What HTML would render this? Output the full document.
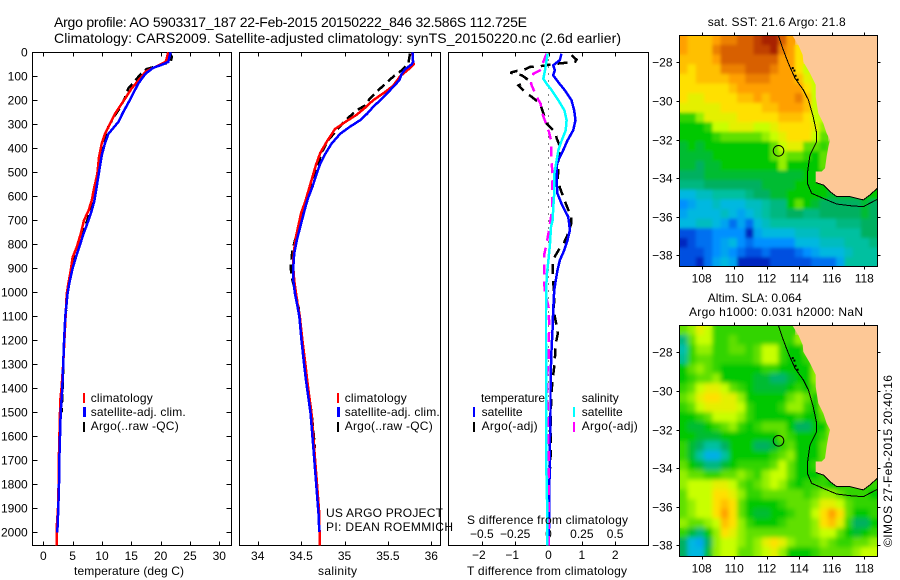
<!DOCTYPE html>
<html>
<head>
<meta charset="utf-8">
<title>Argo profile 5903317_187</title>
<style>
html,body{margin:0;padding:0;background:#fff;width:900px;height:580px;overflow:hidden}
svg{display:block}
text{font-family:"Liberation Sans",sans-serif;font-size:12px;fill:#000}
.t{font-size:14px}
</style>
</head>
<body>
<svg id="fig" xmlns="http://www.w3.org/2000/svg" width="900" height="580" viewBox="0 0 900 580">
<rect x="0" y="0" width="900" height="580" fill="#fff"/>
<text class="t" x="54" y="27" textLength="473" lengthAdjust="spacing">Argo profile: AO 5903317_187 22-Feb-2015 20150222_846 32.586S 112.725E</text>
<text class="t" x="54" y="43" textLength="567" lengthAdjust="spacing">Climatology: CARS2009. Satellite-adjusted climatology: synTS_20150220.nc (2.6d earlier)</text>

<g id="p1"></g>
<g id="p2"></g>
<g id="p3"></g>
<g id="m1"></g>
<g id="m2"></g>

<text x="74" y="575" textLength="110" lengthAdjust="spacing">temperature (deg C)</text>
<text x="318" y="575" textLength="39" lengthAdjust="spacing">salinity</text>
<text x="467" y="575" textLength="160" lengthAdjust="spacing">T difference from climatology</text>
<text x="467" y="524" textLength="161" lengthAdjust="spacing">S difference from climatology</text>

<g>
<rect x="83" y="393" width="2" height="10" fill="#f00"/>
<rect x="83" y="407" width="3" height="10" fill="#00f"/>
<rect x="83" y="422" width="2" height="10" fill="#000"/>
<text x="90.7" y="402" textLength="62" lengthAdjust="spacing">climatology</text>
<text x="90.7" y="416" textLength="95" lengthAdjust="spacing">satellite-adj. clim.</text>
<text x="90.7" y="430" textLength="88" lengthAdjust="spacing">Argo(..raw -QC)</text>
</g>
<g>
<rect x="337" y="393" width="2" height="10" fill="#f00"/>
<rect x="337" y="407" width="3" height="10" fill="#00f"/>
<rect x="337" y="422" width="2" height="10" fill="#000"/>
<text x="344.7" y="402" textLength="62" lengthAdjust="spacing">climatology</text>
<text x="344.7" y="416" textLength="95" lengthAdjust="spacing">satellite-adj. clim.</text>
<text x="344.7" y="430" textLength="88" lengthAdjust="spacing">Argo(..raw -QC)</text>
</g>
<text x="326" y="517" textLength="117" lengthAdjust="spacing">US ARGO PROJECT</text>
<text x="326" y="531" textLength="127" lengthAdjust="spacing">PI: DEAN ROEMMICH</text>

<g>
<text x="481" y="402" textLength="64" lengthAdjust="spacing">temperature</text>
<text x="481.6" y="416" textLength="41" lengthAdjust="spacing">satellite</text>
<text x="481.6" y="430" textLength="56" lengthAdjust="spacing">Argo(-adj)</text>
<rect x="473" y="407" width="2" height="10" fill="#00f"/>
<rect x="473" y="422" width="2" height="10" fill="#000"/>
<text x="581.7" y="402" textLength="37" lengthAdjust="spacing">salinity</text>
<text x="581.7" y="416" textLength="41" lengthAdjust="spacing">satellite</text>
<text x="581.7" y="430" textLength="56" lengthAdjust="spacing">Argo(-adj)</text>
<rect x="573" y="407" width="2" height="10" fill="#0ff"/>
<rect x="573" y="422" width="2" height="10" fill="#f0f"/>
</g>

<text x="707.7" y="26" textLength="138" lengthAdjust="spacing">sat. SST: 21.6 Argo: 21.8</text>
<text x="707.7" y="302" textLength="94" lengthAdjust="spacing">Altim. SLA: 0.064</text>
<text x="689" y="316" textLength="174" lengthAdjust="spacing">Argo h1000: 0.031 h2000: NaN</text>
<text transform="translate(892,547) rotate(-90)" textLength="172" lengthAdjust="spacing">©IMOS 27-Feb-2015 20:40:16</text>
</svg>

<script>
/* ---------- temperature profile data ---------- */
const tempClimDepth=[0,40,55,80,100,150,200,257,340,380,437,507,562,618,660,700,757,812,854,910,965,1007,1100,1200,1300,1400,1450,1600,1700,1800,1900,1975,2054];
const tempClimValue=[21.3,20.86,19.6,17.45,16.8,15.06,13.76,12.2,10.5,9.95,9.5,9.2,8.7,8.25,7.7,6.94,6.37,5.69,5.0,4.67,4.26,3.99,3.8,3.6,3.4,3.1,2.9,2.75,2.65,2.6,2.5,2.3,2.25];
const tempSatDepth=[0,40,50,65,90,130,170,210,250,290,340,380,430,500,560,620,660,700,760,810,850,900,960,1010,1100,1200,1300,1400,1500,1600,1700,1800,1900,2000];
const tempSatValue=[21.7,21.3,20.4,18.7,17.4,16.2,15.35,14.5,13.6,12.8,11.1,10.5,9.95,9.5,9.1,8.7,8.25,7.7,6.8,6.15,5.6,5.0,4.45,4.1,3.75,3.55,3.4,3.24,2.96,2.85,2.73,2.68,2.56,2.39];
const tempArgoDepth=[0,20,40,50,70,85,120,150,190,230,270,310,370,400,500,600,700,800,900,1000,1100,1200,1300,1400,1500];
const tempArgoValue=[21.6,21.9,21.7,20.4,17.6,16.8,15.6,14.5,13.9,13.1,12.0,11.1,10.4,10.1,9.4,8.8,7.5,6.0,4.8,4.1,3.8,3.6,3.4,3.3,3.1];

/* ---------- salinity profile data ---------- */
const salClimDepth=[0,40,50,70,100,140,170,200,230,260,290,320,370,420,470,520,570,620,670,720,770,820,860,900,950,1000,1050,1100,1200,1300,1367,1506,1644,1783,1922,2054];
const salClimValue=[35.78,35.79,35.80,35.74,35.64,35.56,35.45,35.33,35.24,35.14,35.01,34.89,34.80,34.72,34.67,34.63,34.59,34.55,34.50,34.47,34.44,34.42,34.41,34.41,34.42,34.44,34.46,34.485,34.515,34.55,34.57,34.62,34.65,34.68,34.71,34.714];
const salSatDepth=[0,6,40,50,70,89,117,144,172,200,228,256,283,311,339,381,422,464,506,561,617,672,728,783,839,894,950,1006,1061,1103,1200,1300,1367,1506,1644,1783,1922,1998];
const salSatValue=[35.78,35.785,35.79,35.774,35.70,35.66,35.63,35.56,35.49,35.41,35.33,35.26,35.18,35.06,34.95,34.85,34.78,34.72,34.68,34.63,34.57,34.53,34.49,34.45,34.42,34.41,34.41,34.43,34.46,34.48,34.505,34.535,34.556,34.61,34.64,34.67,34.70,34.71];
const salArgoDepth=[6,47,75,96,131,158,193,221,242,283,325,367,422,464,644,783,825,894,936,992,1061,1300,1500,1650];
const salArgoValue=[35.755,35.735,35.66,35.58,35.47,35.39,35.29,35.24,35.14,35.01,34.91,34.81,34.73,34.70,34.55,34.43,34.40,34.38,34.39,34.43,34.47,34.54,34.62,34.66];

/* ---------- difference data ---------- */
const dtSatDepth=[6,33,54,75,96,124,158,200,242,283,325,367,408,450,478,533,589,631,686,714,742,783,825,867,908,950,992,1075,1158,1242,1325,1408,1500,1644,1922,2054];
const dtSatValue=[.39,.34,.14,.19,.14,.29,.49,.69,.77,.81,.74,.57,.44,.29,.24,.24,.27,.39,.59,.62,.64,.57,.47,.34,.27,.22,.17,.14,.12,.09,.07,.06,.06,.04,.02,.01];
const dtArgoDepth=[12,31,40,44,50,58,61,71,78,85,89,96,110,124,138,172,186,214,297,332,360,394,450,533,568,631,686,714,769,797,825,860,894,936,971,1019,1075,1131,1172,1214,1256,1311,1367,1436,1575,1658,1783,1922,2054];
const dtArgoValue=[.69,.84,.80,.49,.1,-.25,-.55,-.70,-.95,-1.15,-1.0,-.8,-.65,-.7,-.9,-.65,-.5,-.25,-.05,.2,.25,.35,.3,.28,.35,.52,.68,.68,.55,.45,.3,.15,.12,.12,.15,.18,.15,.23,.28,.22,.2,.17,.12,.08,.06,.07,.03,.01,.01];
const dsSatDepth=[6,33,75,110,131,158,200,242,283,325,367,408,450,506,575,644,700,728,797,867,936,1075,1214,1353,1644,1742,1922,2054];
const dsSatValue=[-.006,-.014,-.026,-.039,-.014,.024,.074,.119,.136,.129,.099,.074,.061,.044,.044,.036,.031,.019,.011,-.001,-.014,-.019,-.019,-.019,-.019,-.016,-.009,-.009];
const dsArgoDepth=[6,75,89,131,186,214,256,304,332,367,436,506,575,644,686,742,797,839,908,950,999,1061,1144,1214,1283,1353,1506,1644,1783,2054];
const dsArgoValue=[-.014,-.064,-.114,-.131,-.089,-.059,-.046,-.014,.004,.019,.019,.031,.029,.029,.019,.004,-.014,-.031,-.034,-.034,-.026,0,.006,0,0,-.011,-.006,0,.001,.001];

/* ---------- axis tick labels ---------- */
const depthTicks=[0,100,200,300,400,500,600,700,800,900,1000,1100,1200,1300,1400,1500,1600,1700,1800,1900,2000];
const tempTicks=[0,5,10,15,20,25,30];
const salTicks=[34,34.5,35,35.5,36];
const dtTicks=[-2,-1,0,1,2];
const dsTicks=[-0.5,-0.25,0,0.25,0.5];
const lonTicks=[108,110,112,114,116,118];
const latTicks=[-28,-30,-32,-34,-36,-38];

/* ---------- SST grid, colour level per half-degree cell (north to south) ---------- */
const sstRows=[
[10,9.5,9.5,9.5,10,10.5,10.5,11,11,11.5,12,12,11,10],
[10,9.5,9.5,9.5,10.5,11,11,11,11,11.5,11.5,12,10.5,10,9],
[9.5,9.5,9.5,9.5,10,11,11,11,11,11,11,11,10,10,9],
[9.5,9,9.5,9.5,9.5,10.5,10.5,10.5,11,11,11,10.5,10,10,9,8],
[9,9,9.5,9.5,9.5,9.5,10,10,10.5,10.5,10.5,10,10,10,9.5,8.5,8],
[9,9,9,9,9,9,9.5,10,10,10,10,10,10,10,10,9,8],
[9,8.5,8.5,9,9,9,9,9.5,9.5,10,9.5,10,10,10,10.5,9.5,8],
[8.5,8.5,8.5,8.5,8.5,9,9,9,9,9,9.5,9.5,10,10,10,9.5,8,8],
[6.5,6.5,7.5,8.5,8.5,8.5,8.5,9,9,9,9,9,9.5,9.5,9.5,9,8,8],
[6,6,6,6.5,8,8,8.5,8.5,8.5,8,8,8.5,9,9,9,9,8.5,7.5],
[6,6,6,6,6.5,7,7,7,7,7,7.5,8,8.5,9,9,9,8,7],
[5.5,6,5.5,6,6,6,6,6,6,6,6,7,8,8.5,8.5,7,7,6.5,7],
[5.5,5.5,5.5,5.5,6,6,6,6,6,6,6,7,7.5,7,7,6.5,6,7],
[5.5,5.5,5,5.5,5.5,6,6,6,6,6,6,6,7.5,6,6,6,6,7,7],
[5,5,5,5.5,5.5,5.5,5.5,5.5,5.5,5.5,5.5,5.5,5.5,5.5,5.5,6,6,6],
[4.5,4.5,4.5,5,5,5,5,5,5,5,5.5,5.5,5.5,5.5,6,6,6,6],
[3,3,3.5,3.5,4,4,4,4,4.5,5,5,5.5,5.5,6,6,6,6,6,5.5,5.5,5.5,5.5,6,6],
[2,2.5,3,3,3.5,3,3,3,3.5,3.5,4,4.5,4.5,6,7,6,5.5,5,5,5,5,5,5.5,5],
[2.5,3,3,3,3,3.5,3,2.5,3,3.5,4,4.5,4.5,5,5,4.5,4.5,5,5,5,5,5,5.5,5],
[3,3,3.5,3.5,3,2.5,1.5,2.5,1.5,3,3.5,4,4,4,4,4,4,4,4,4.5,4.5,4.5,5,5],
[1,1,1.5,1.5,2,2,2,2,.5,2.5,3,3,3,3,3.5,3.5,3.5,4,4,4,4,4,5,5],
[.5,1,1.5,1.5,2,2.5,3,2,1.5,2,2,2,2,2,3,3,3,3.5,3.5,3.5,4,4,4,4.5],
[1,1,1,1.5,2,2.5,2,1.5,1,1,1.5,1,1,1,1.5,2,2.5,3,3,3,3.5,4,4,4],
[1,1,.5,1.5,2.5,3,2.5,.5,.5,.5,.5,1,1,1,1,1,1.5,1.5,1.5,2.5,4,4,4,4]
];
/* ---------- SLA grid, colour level per half-degree cell ---------- */
const slaRows=[
[7,7.5,8.5,8,6.5,6.5,6.5,6.5,6.5,6.5,6.5,6.5,6.5,6.5],
[4.5,7,8,8,6.5,6.5,7,6.5,6.5,6.5,6.5,6.5,6.5,6.5,7.5],
[3.8,6.5,7.5,7.5,6.5,6.5,7,7,6.5,7,8,8,6.5,6,6,7],
[4.2,6.5,7,7,6.5,6.5,6.5,6.5,6.5,7,8,8,6.5,6,6,6.5],
[6,7,7.5,7,6.5,6,6,6,6,6,6.5,6.5,6,6,6,6,7.5],
[6,6.5,7,7,7.5,6,6,6,6,5.5,5.5,4.8,4.8,5.5,6,6,7.5],
[6.5,7,8,8.5,8.5,8,7,6.5,6,5.5,5.5,5.5,5.5,6,6.5,6,7],
[7,7.5,8.5,9,9,8.5,8.5,7.5,6,6,6,6,6,7,7.5,7,6,7.5],
[6.5,7,8,8.5,8.5,8.5,8.5,8,6.5,6,6,6,6.5,7.5,7.5,6.5,6,7.5],
[6,6,6.5,7,8,8,8,7.5,6.5,6,6,6,6,6,6.5,6,6,7],
[6,5.5,5.5,6,6.5,7,7.5,6.5,6,6.5,7,7,7,6,5,5,6,6,7.5],
[6,6,5.5,5.5,5.5,6,6,6,6,6,6,6,7,6.5,6,6,6,6.5,7.5],
[6.5,5.5,5,4,4,5,6,6,6,5,5,5.5,6.5,7,6,6,6,7,7.5],
[6.5,5.5,4,2.8,2.8,4,6,6,6,6,6,6.5,7,7.5,6,6,6,7,7.5],
[7,6,5.5,4.5,4.5,5.5,6,6.5,6.5,6.5,6.5,7,8,7,6,6,6.5,7],
[7.5,7,7,6.5,6.5,7,7,7.5,7,6.5,7.5,8,8,7,6,6,6,6.5],
[7.5,8,8,8,8.5,8.5,8,7,6.5,7,7.5,8,7.5,6.5,6,6.5,6.5,6.5,6,6,6.5,6.5,6.5,6.5],
[7,8,8,8,9,9,8.5,7.5,6.5,6.5,7,7,7,7,7,6.5,7,7.5,7.5,7,6.5,6.5,6.5,6],
[7,7.5,8,8,9,9.5,9,7,6,6,6,6,6.5,7,7,7,7.5,8.5,8.5,8,7,6.5,6.5,6.5],
[7,7.5,8,8,9,10,9,7,6,5.5,5.5,6,6,6.5,7,7,8,9,10,9,7,6,6,6.5],
[7.5,7,7,7.5,8,9.5,9,7.5,6.5,6,6,6,6.5,7,7,7,7.5,9,9.5,8.5,6.5,5,5,6],
[6.5,5.5,4.5,6,7.5,9,8.5,7.5,7,7,7,7,7,7,7,7,7.5,8,8,7,6,5.5,6,6.5],
[5,3,2.6,5,7.5,8,8,7.5,7,7.5,8.5,9,8.5,7.5,7,7,7,7.5,7,6.5,6.5,7,7,7.5],
[5,3,3,5.5,7.5,8,8,7,7,7.5,8,8.5,7.5,6,6,6,6.5,7,7,7,7,7.5,8,8]
];
/* ---------- geography (lon/lat) ---------- */
const landLon=[113.57,113.94,114.21,114.25,114.66,115.01,115.01,115.17,115.48,115.68,115.89,115.79,115.68,115.58,115.38,115.01,115.01,115.48,115.89,116.30,117.12,117.94,118.35,118.80,118.80];
const landLat=[-26.6,-27.10,-27.62,-27.97,-28.57,-29.17,-29.78,-30.64,-31.16,-31.68,-32.02,-32.37,-32.89,-33.49,-33.66,-33.66,-34.23,-34.36,-34.70,-34.96,-34.96,-35.13,-34.87,-34.53,-26.6];
const southCoastLon=[115.01,115.48,115.89,116.30,117.12,117.94,118.35,118.80];
const southCoastLat=[-34.23,-34.36,-34.70,-34.96,-34.96,-35.13,-34.87,-34.53];
const isobathLon=[112.71,113.02,113.33,113.74,114.25,114.56,114.86,115.07,115.07,114.66,114.50,114.50,114.76,115.48,116.30,117.12,117.94,118.80];
const isobathLat=[-26.6,-27.36,-28.05,-28.83,-29.43,-29.95,-30.82,-31.68,-32.11,-32.80,-33.75,-34.27,-34.79,-35.05,-35.34,-35.43,-35.48,-35.10];
const reefLon=[113.6,113.7,113.77,113.9];
const reefLat=[-28.3,-28.43,-28.7,-28.9];
const argoLon=112.725;
const argoLat=-32.586;
const levelStops=["#0000a0","#0050e0","#0090ff","#00b8e0","#00c0a0","#00b060","#00c800","#60e000","#c8ff00","#ffe000","#ffa000","#d86000","#a82000"];

/* ---------- helpers ---------- */
const NS="http://www.w3.org/2000/svg";
function mk(tag,parent,attrs){
  const el=document.createElementNS(NS,tag);
  for(const k in attrs){el.setAttribute(k,attrs[k]);}
  parent.appendChild(el);
  return el;
}
const TOP=52.5,BOTTOM=545.5;
const depthY=d=>52.3+0.24*d;
const tempX=t=>43.3+5.867*t;
const salX=s=>257.7+86.8*(s-34);
const dtX=t=>548.5+33.33*t;
const dsX=s=>548.5+133.3*s;
const fmtMinus=v=>String(v).replace("-","\u2212");

function pts(xs,ys,fx,fy){return xs.map((v,i)=>fx(v).toFixed(1)+","+fy(ys[i]).toFixed(1)).join(" ");}

function drawFrame(g,x0,x1){
  const frame=mk("rect",g,{x:x0,y:TOP,width:x1-x0,height:BOTTOM-TOP,fill:"none",stroke:"#000","stroke-width":1,"shape-rendering":"crispEdges"});
  
  
}
function drawXTicks(g,values,fx,labelY,negShift){
  values.forEach(v=>{
    const x=Math.round(fx(v))+0.5;
    const t1=mk("line",g,{x1:x,x2:x,y1:TOP,y2:TOP+4,stroke:"#000","shape-rendering":"crispEdges"});
    
    
    const t2=mk("line",g,{x1:x,x2:x,y1:BOTTOM,y2:BOTTOM-4,stroke:"#000","shape-rendering":"crispEdges"});
    
    
    const lab=mk("text",g,{x:fx(v)+(v<0?negShift:0),y:labelY,"text-anchor":"middle"});
    lab.textContent=fmtMinus(v);
    
    
  });
}
function drawLine(g,xs,ys,fx,color,dash,name){
  const line=mk("polyline",g,{points:pts(xs,ys,fx,depthY),fill:"none",stroke:color,"stroke-width":2.5,"shape-rendering":"crispEdges"});
  if(dash){line.setAttribute("stroke-dasharray",dash);}
  
  
}

/* ---------- profile panels ---------- */
const p1=document.getElementById("p1"),p2=document.getElementById("p2"),p3=document.getElementById("p3");
drawFrame(p1,32.5,231.5);
drawFrame(p2,239.5,440.5);
drawFrame(p3,448.5,648.5);
depthTicks.forEach(d=>{
  const y=Math.round(depthY(d))+0.5;
  const a=mk("line",p1,{x1:32.5,x2:37.5,y1:y,y2:y,stroke:"#000","shape-rendering":"crispEdges"});
  
  
  const b=mk("line",p1,{x1:226.5,x2:231.5,y1:y,y2:y,stroke:"#000","shape-rendering":"crispEdges"});
  
  
  const lab=mk("text",p1,{x:27.7,y:y+4,"text-anchor":"end"});
  lab.textContent=String(d);
  
  
});
drawXTicks(p1,tempTicks,tempX,560,0);
drawXTicks(p2,salTicks,salX,560,0);
drawXTicks(p3,dtTicks,dtX,559,-3);
dsTicks.forEach(v=>{
  const lab=mk("text",p3,{x:dsX(v),y:538,"text-anchor":"middle"});
  lab.textContent=fmtMinus(v);
  
  
});

drawLine(p1,tempArgoValue,tempArgoDepth,tempX,"#000","9 5","temperature-argo-line");
drawLine(p1,tempClimValue,tempClimDepth,tempX,"#f00",null,"temperature-climatology-line");
drawLine(p1,tempSatValue,tempSatDepth,tempX,"#00f",null,"temperature-satellite-line");
drawLine(p2,salArgoValue,salArgoDepth,salX,"#000","9 5","salinity-argo-line");
drawLine(p2,salClimValue,salClimDepth,salX,"#f00",null,"salinity-climatology-line");
drawLine(p2,salSatValue,salSatDepth,salX,"#00f",null,"salinity-satellite-line");

const zero=mk("line",p3,{x1:548.5,x2:548.5,y1:TOP,y2:BOTTOM,stroke:"#000","stroke-dasharray":"1 6","shape-rendering":"crispEdges"});


drawLine(p3,dtArgoValue,dtArgoDepth,dtX,"#000","10 7","t-difference-argo-line");
drawLine(p3,dtSatValue,dtSatDepth,dtX,"#00f",null,"t-difference-satellite-line");
drawLine(p3,dsArgoValue,dsArgoDepth,dsX,"#f0f","10 7","s-difference-argo-line");
drawLine(p3,dsSatValue,dsSatDepth,dsX,"#0ff",null,"s-difference-satellite-line");

/* ---------- maps ---------- */
function levelColor(v){
  const i=Math.max(0,Math.min(levelStops.length-2,Math.floor(v)));
  const f=Math.max(0,Math.min(1,v-i));
  const a=levelStops[i],b=levelStops[i+1];
  const out=[1,3,5].map(k=>{
    const ca=parseInt(a.substr(k,2),16),cb=parseInt(b.substr(k,2),16);
    return Math.round(ca+(cb-ca)*f);
  });
  return "rgb("+out.join(",")+")";
}
const mapLeft=679.5,mapRight=877.5;
const LON0=106.62,DLON=0.5075,LAT0=-26.6,DLAT=0.5;
const lonX=lon=>701.7+(lon-108)*16.26;

function drawCells(parent,rows,latY){
  rows.forEach((row,r)=>{
    row.forEach((v,c)=>{
      const x0=lonX(LON0+c*DLON),x1=lonX(LON0+(c+1)*DLON);
      const y0=latY(LAT0-r*DLAT),y1=latY(LAT0-(r+1)*DLAT);
      const cell=mk("rect",parent,{x:x0.toFixed(2),y:y0.toFixed(2),width:(x1-x0+0.4).toFixed(2),height:(y1-y0+0.4).toFixed(2),fill:levelColor(v)});
      
      
    });
  });
}
function drawMap(id,rows,yOffset,blurStd){
  const root=document.getElementById(id);
  const latY=lat=>62.3+yOffset+(-28-lat)*19.3;
  const top=35.5+yOffset,bottom=266.5+yOffset;
  const defs=mk("defs",root,{});
  const clip=mk("clipPath",defs,{id:id+"-clip"});
  mk("rect",clip,{x:mapLeft,y:top,width:mapRight-mapLeft,height:bottom-top});
  const f=mk("filter",defs,{id:id+"-blur",x:"-5%",y:"-5%",width:"110%",height:"110%"});
  mk("feGaussianBlur",f,{stdDeviation:blurStd});
  const body=mk("g",root,{"clip-path":"url(#"+id+"-clip)"});
  const bg=mk("rect",body,{x:mapLeft,y:top,width:mapRight-mapLeft,height:bottom-top,fill:"#fdc896"});
  
  
  const base=mk("g",body,{"shape-rendering":"crispEdges"});
  
  
  drawCells(base,rows,latY);
  const soft=mk("g",body,{filter:"url(#"+id+"-blur)"});
  
  
  drawCells(soft,rows,latY);
  const land=mk("polygon",body,{points:pts(landLon,landLat,lonX,latY),fill:"#fdc896"});
  
  
  const coast=mk("polyline",body,{points:pts(southCoastLon,southCoastLat,lonX,latY),fill:"none",stroke:"#000","shape-rendering":"crispEdges"});
  
  
  const iso=mk("polyline",body,{points:pts(isobathLon,isobathLat,lonX,latY),fill:"none",stroke:"#000","shape-rendering":"crispEdges"});
  
  
  reefLon.forEach((lon,i)=>{
    const dot=mk("rect",body,{x:lonX(lon)-1,y:latY(reefLat[i])-1,width:2,height:2,fill:"#000"});
    
    
  });
  const marker=mk("circle",body,{cx:lonX(argoLon),cy:latY(argoLat),r:5.3,fill:"none",stroke:"#000"});
  
  
  const frame=mk("rect",root,{x:mapLeft,y:top,width:mapRight-mapLeft,height:bottom-top,fill:"none",stroke:"#000","shape-rendering":"crispEdges"});
  
  
  lonTicks.forEach(lon=>{
    const x=Math.round(lonX(lon))+0.5;
    const a=mk("line",root,{x1:x,x2:x,y1:top-3,y2:top,stroke:"#000","shape-rendering":"crispEdges"});
    
    
    const b=mk("line",root,{x1:x,x2:x,y1:bottom,y2:bottom+3,stroke:"#000","shape-rendering":"crispEdges"});
    
    
    const lab=mk("text",root,{x:lonX(lon),y:282.7+yOffset,"text-anchor":"middle"});
    lab.textContent=String(lon);
    
    
  });
  latTicks.forEach(lat=>{
    const y=Math.round(latY(lat))+0.5;
    const a=mk("line",root,{x1:mapLeft-3,x2:mapLeft,y1:y,y2:y,stroke:"#000","shape-rendering":"crispEdges"});
    
    
    const b=mk("line",root,{x1:mapRight,x2:mapRight+3,y1:y,y2:y,stroke:"#000","shape-rendering":"crispEdges"});
    
    
    const lab=mk("text",root,{x:672.5,y:y+4,"text-anchor":"end"});
    lab.textContent=fmtMinus(lat);
    
    
  });
}
drawMap("m1",sstRows,0,1.5);
drawMap("m2",slaRows,290,2.5);
</script>
</body>
</html>
